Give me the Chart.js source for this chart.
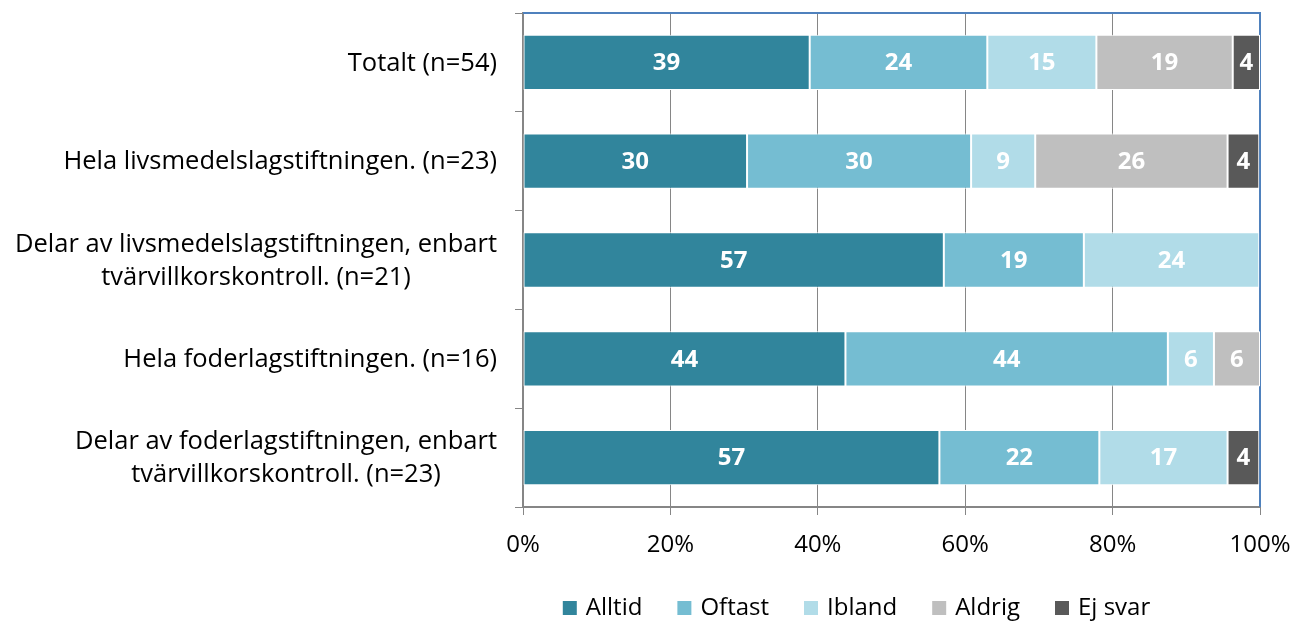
<!DOCTYPE html>
<html>
<head>
<meta charset="utf-8">
<script src="https://cdn.jsdelivr.net/npm/chart.js@4"></script>
<style>
  html, body { margin: 0; padding: 0; background: #fff; overflow: hidden; }
</style>
</head>
<body>
<canvas id="chart" width="1295" height="621"></canvas>
<script>
// kategorier (y-axeln), varje rad en egen textrad
const categories = [
  ['Totalt (n=54)'],
  ['Hela livsmedelslagstiftningen. (n=23)'],
  ['Delar av livsmedelslagstiftningen, enbart', 'tvärvillkorskontroll. (n=21)'],
  ['Hela foderlagstiftningen. (n=16)'],
  ['Delar av foderlagstiftningen, enbart', 'tvärvillkorskontroll. (n=23)']
];

// andel i procent per svar
const alltid = [38.9, 30.4, 57.1, 43.75, 56.5];
const oftast = [24.1, 30.4, 19.0, 43.75, 21.7];
const ibland = [14.8, 8.7, 23.8, 6.25, 17.4];
const aldrig = [18.5, 26.1, 0, 6.25, 0];
const ejSvar = [3.7, 4.3, 0, 0, 4.3];

const xTicks = [0, 20, 40, 60, 80, 100];

const FONT = '"Open Sans"';

// etiketter i staplarna
const barLabels = {
  id: 'barLabels',
  afterDatasetsDraw(chart) {
    const ctx = chart.ctx;
    ctx.save();
    ctx.font = 'bold 24px ' + FONT;
    ctx.fillStyle = '#fff';
    ctx.textAlign = 'center';
    ctx.textBaseline = 'middle';
    chart.data.datasets.forEach((ds, i) => {
      chart.getDatasetMeta(i).data.forEach((bar, j) => {
        const v = ds.data[j];
        if (!v) return;
        const cx = (bar.x + bar.base) / 2;
        ctx.fillText(Math.round(v), cx, bar.y + 1);
      });
    });
    ctx.restore();
  }
};

// kategoritext: högerställt block, raderna centrerade sinsemellan
const catLabels = {
  id: 'catLabels',
  afterDraw(chart) {
    const ctx = chart.ctx;
    const y = chart.scales.y;
    const right = chart.chartArea.left - 26;
    ctx.save();
    ctx.font = '25.5px ' + FONT;
    ctx.fillStyle = '#000';
    ctx.textBaseline = 'middle';
    ctx.textAlign = 'center';
    categories.forEach((lines, i) => {
      const w = Math.max(...lines.map(l => ctx.measureText(l).width));
      const cx = right - w / 2;
      const cy = y.getPixelForValue(i) + 1;
      const lh = 33;
      lines.forEach((l, k) => {
        ctx.fillText(l, cx, cy + (k - (lines.length - 1) / 2) * lh);
      });
    });
    ctx.restore();
  }
};

// förklaring under diagrammet
const legendBox = {
  id: 'legendBox',
  afterDraw(chart) {
    const ctx = chart.ctx;
    const a = chart.chartArea;
    const box = 14, gap = 9, itemGap = 35, y = 608;
    ctx.save();
    ctx.font = '24px ' + FONT;
    ctx.textBaseline = 'middle';
    ctx.textAlign = 'left';
    const items = chart.data.datasets.map(ds => ({
      text: ds.label, color: ds.backgroundColor, w: ctx.measureText(ds.label).width
    }));
    const total = items.reduce((s, it) => s + box + gap + it.w, 0) + itemGap * (items.length - 1);
    let x = (a.left + a.right) / 2 - 35 - total / 2;
    items.forEach(it => {
      ctx.fillStyle = it.color;
      ctx.fillRect(x, y - 7, box, box);
      ctx.fillStyle = '#000';
      ctx.fillText(it.text, x + box + gap, y);
      x += box + gap + it.w + itemGap;
    });
    ctx.restore();
  }
};

// blå ram upptill och till höger
const frame = {
  id: 'frame',
  beforeDatasetsDraw(chart) {
    const a = chart.chartArea;
    const ctx = chart.ctx;
    ctx.save();
    ctx.strokeStyle = '#4F81BD';
    ctx.lineWidth = 2;
    ctx.beginPath();
    ctx.moveTo(a.left, a.top);
    ctx.lineTo(a.right, a.top);
    ctx.lineTo(a.right, a.bottom);
    ctx.stroke();
    ctx.restore();
  }
};

const mk = (label, data, color) => ({
  label: label,
  data: data,
  backgroundColor: color,
  borderColor: '#fff',
  borderWidth: 1,
  borderSkipped: false,
  categoryPercentage: 1,
  barPercentage: 0.56
});

new Chart(document.getElementById('chart'), {
  type: 'bar',
  data: {
    labels: categories,
    datasets: [
      mk('Alltid', alltid, '#31859C'),
      mk('Oftast', oftast, '#75BDD2'),
      mk('Ibland', ibland, '#B1DCE8'),
      mk('Aldrig', aldrig, '#BFBFBF'),
      mk('Ej svar', ejSvar, '#595959')
    ]
  },
  options: {
    indexAxis: 'y',
    responsive: false,
    animation: false,
    layout: { padding: { top: 13, right: 35, left: 0, bottom: 0 } },
    scales: {
      x: {
        stacked: true,
        min: 0,
        max: 100,
        afterBuildTicks: s => { s.ticks = xTicks.map(v => ({ value: v })); },
        ticks: {
          callback: v => v + '%',
          font: { family: 'Open Sans', size: 24 },
          color: '#000',
          padding: 16
        },
        grid: { color: '#868686', lineWidth: 1, tickLength: 8 },
        border: { color: '#868686', width: 2 },
        afterFit: s => { s.height = 114; s.paddingLeft = 0; s.paddingRight = 0; }
      },
      y: {
        stacked: true,
        ticks: { display: false },
        grid: { drawOnChartArea: false, offset: true, color: '#868686', tickLength: 8 },
        border: { color: '#868686', width: 2 },
        afterFit: s => { s.width = 523; }
      }
    },
    plugins: {
      legend: { display: false },
      tooltip: { enabled: false }
    }
  },
  plugins: [barLabels, catLabels, legendBox, frame]
});
</script>
</body>
</html>
